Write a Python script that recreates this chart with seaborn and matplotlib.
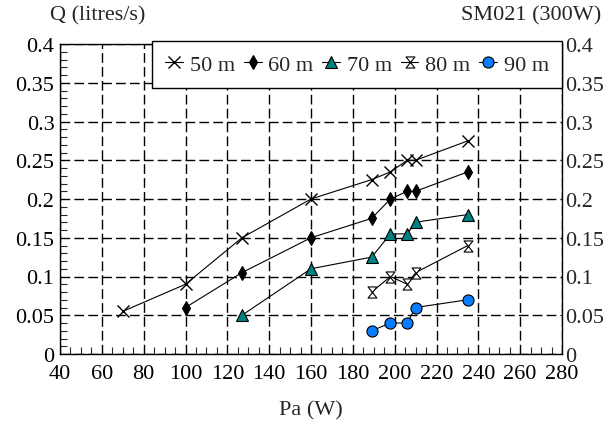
import matplotlib
matplotlib.use("Agg")
import matplotlib.pyplot as plt
from matplotlib.path import Path
from matplotlib.ticker import MultipleLocator
import seaborn as sns
import pandas as pd

sns.set_style("white")
plt.rcParams['font.family'] = ['Liberation Serif', 'DejaVu Serif']

# ---- data ----
pa_50 = [70, 100, 127, 160, 189, 198, 206, 210, 235]
q_50 = [0.055, 0.09, 0.15, 0.2, 0.225, 0.235, 0.25, 0.25, 0.275]
pa_60 = [100, 127, 160, 189, 198, 206, 210, 235]
q_60 = [0.06, 0.105, 0.15, 0.175, 0.2, 0.21, 0.21, 0.235]
pa_70 = [127, 160, 189, 198, 206, 210, 235]
q_70 = [0.05, 0.11, 0.125, 0.155, 0.155, 0.17, 0.18]
pa_80 = [189, 198, 206, 210, 235]
q_80 = [0.08, 0.1, 0.09, 0.105, 0.14]
pa_90 = [189, 198, 206, 210, 235]
q_90 = [0.03, 0.04, 0.04, 0.06, 0.07]
labels = ["50 m", "60 m", "70 m", "80 m", "90 m"]
x_ticks = [40, 60, 80, 100, 120, 140, 160, 180, 200, 220, 240, 260, 280]
y_ticks = [0, 0.05, 0.1, 0.15, 0.2, 0.25, 0.3, 0.35, 0.4]

hourglass = Path([(-0.8, 1), (0.8, 1), (-0.8, -1), (0.8, -1), (-0.8, 1)],
                 [Path.MOVETO, Path.LINETO, Path.LINETO, Path.LINETO, Path.CLOSEPOLY])

styles = [
    dict(marker="x", ms=8, mfc="black", mec="black", mew=1.0),
    dict(marker="d", ms=7.5, mfc="black", mec="black", mew=0.8),
    dict(marker="^", ms=8.5, mfc="#008080", mec="black", mew=0.8),
    dict(marker=hourglass, ms=8, mfc="white", mec="black", mew=0.8),
    dict(marker="o", ms=8, mfc="#0a7cff", mec="black", mew=0.8),
]
series = [(pa_50, q_50), (pa_60, q_60), (pa_70, q_70), (pa_80, q_80), (pa_90, q_90)]

fig = plt.figure(figsize=(6.07, 4.27), dpi=100)
W, H = 607, 427
ax = fig.add_axes([60 / W, (H - 355) / H, 502 / W, 310 / H])

FS = 16
for (xs, ys), lab, st in zip(series, labels, styles):
    df = pd.DataFrame({"Pa": xs, "Q": ys})
    sns.lineplot(data=df, x="Pa", y="Q", ax=ax, color="black", lw=0.8,
                 estimator=None, sort=False, label=lab,
                 marker=st["marker"], markersize=st["ms"],
                 markerfacecolor=st["mfc"], markeredgecolor=st["mec"],
                 markeredgewidth=st["mew"], zorder=3)

ax.set_xlim(40, 280)
ax.set_ylim(0, 0.4)
ax.set_xticks(x_ticks)
ax.set_yticks(y_ticks)
ax.set_xticklabels([str(v) for v in x_ticks])
ax.set_yticklabels(["0" if v == 0 else f"{v:g}" for v in y_ticks])
ax.xaxis.set_minor_locator(MultipleLocator(5))
ax.yaxis.set_minor_locator(MultipleLocator(0.01))
ax.tick_params(axis="both", which="major", direction="in", length=0, labelsize=FS,
               colors="black")
ax.tick_params(axis="y", which="major", pad=4)
ax.tick_params(axis="x", which="major", pad=7.5)
ax.tick_params(axis="both", which="minor", direction="in", length=5, width=0.8,
               bottom=True, left=True, top=False, right=False)
ax.grid(True, which="major", color="black", linestyle=(0, (7, 3)), lw=1.0)
for s in ax.spines.values():
    s.set_color("black")
    s.set_linewidth(1.0)
ax.set_xlabel("Pa (W)", fontsize=FS, labelpad=12)
ax.set_ylabel("")
for t in ax.get_yticklabels():
    t.set_verticalalignment("center_baseline")

ax2 = ax.twinx()
ax2.set_ylim(0, 0.4)
ax2.set_yticks(y_ticks)
ax2.set_yticklabels(["0" if v == 0 else f"{v:g}" for v in y_ticks])
ax2.tick_params(axis="y", length=0, labelsize=FS, pad=2)
for s in ax2.spines.values():
    s.set_visible(False)
ax2.grid(False)
for t in ax2.get_yticklabels():
    t.set_verticalalignment("center_baseline")

handles, labs = ax.get_legend_handles_labels()
leg = ax.legend(handles, labs, ncol=5, loc="upper right", bbox_to_anchor=(1.0, 1.01),
                fontsize=FS, frameon=True, fancybox=False, edgecolor="black",
                framealpha=1, borderaxespad=0, handlelength=0.8, handletextpad=0.3,
                columnspacing=0.4, borderpad=0.6)
leg.get_frame().set_linewidth(1.0)
leg.set_zorder(10)

fig.text(50 / W, 1 - 16 / H, "Q (litres/s)", fontsize=FS, ha="left", va="center")
fig.text(601 / W, 1 - 16 / H, "SM021 (300W)", fontsize=FS, ha="right", va="center")

fig.savefig("out.png", dpi=100)
